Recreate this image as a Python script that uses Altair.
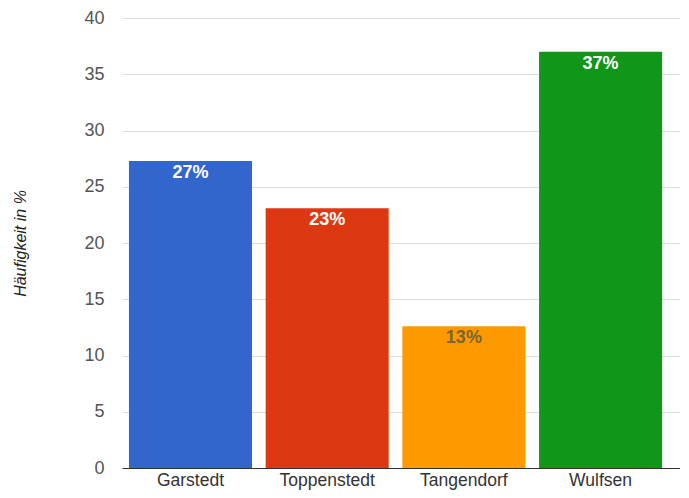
import altair as alt
import pandas as pd

orte = ["Garstedt", "Toppenstedt", "Tangendorf", "Wulfsen"]
werte = [27.3, 23.1, 12.6, 37.0]
labels = ["27%", "23%", "13%", "37%"]
farben = ["#3366cc", "#dc3912", "#ff9900", "#109618"]
y_ticks = [i * 2.5 for i in range(17)]

df = pd.DataFrame({"Ort": orte, "Wert": werte, "Label": labels})

FONT = "Liberation Sans"
H = 450

x_enc = alt.X("Ort:N", sort=orte, title=None,
              scale=alt.Scale(paddingInner=0.1, paddingOuter=0.091, align=0.28),
              axis=alt.Axis(labelAngle=0, labelFontSize=17.5, labelColor="#333333",
                            labelFont=FONT, ticks=False, labelPadding=3,
                            domainColor="#333333", domainWidth=1.2, grid=False))
y_enc = alt.Y("Wert:Q", title="Häufigkeit in %",
              scale=alt.Scale(domain=[0, 40], nice=False),
              axis=alt.Axis(values=y_ticks, ticks=False, domain=False,
                            labelExpr="datum.value % 5 === 0 ? datum.label : ''",
                            labelFontSize=18, labelColor="#555555", labelFont=FONT,
                            labelPadding=18,
                            gridColor={"condition": {"test": "datum.value % 5 === 0", "value": "#dcdcdc"}, "value": "#f1f1f1"},
                            titleFont=FONT, titleFontSize=16, titleFontStyle="italic",
                            titleFontWeight="normal", titleColor="#222222",
                            titleAngle=-90, titleX=-102, titleY=H / 2,
                            titleAlign="center", titleBaseline="middle"))

bars = alt.Chart(df).mark_bar().encode(
    x=x_enc,
    y=y_enc,
    color=alt.Color("Ort:N", sort=orte, scale=alt.Scale(domain=orte, range=farben), legend=None),
)

text = alt.Chart(df).mark_text(dy=12, fontSize=18, font=FONT, fontWeight="bold", baseline="middle").encode(
    x=alt.X("Ort:N", sort=orte),
    y=alt.Y("Wert:Q"),
    text="Label:N",
    color=alt.condition(alt.datum.Ort == "Tangendorf", alt.value("#7a6530"), alt.value("#ffffff")),
)

chart = alt.layer(bars, text).properties(
    width=558, height=H,
    autosize=alt.AutoSizeParams(type="none"),
    padding={"left": 114, "top": 10, "right": 0, "bottom": 22},
).configure_view(stroke=None)

chart.save("out.html", embed_options={"renderer": "svg", "actions": False})
